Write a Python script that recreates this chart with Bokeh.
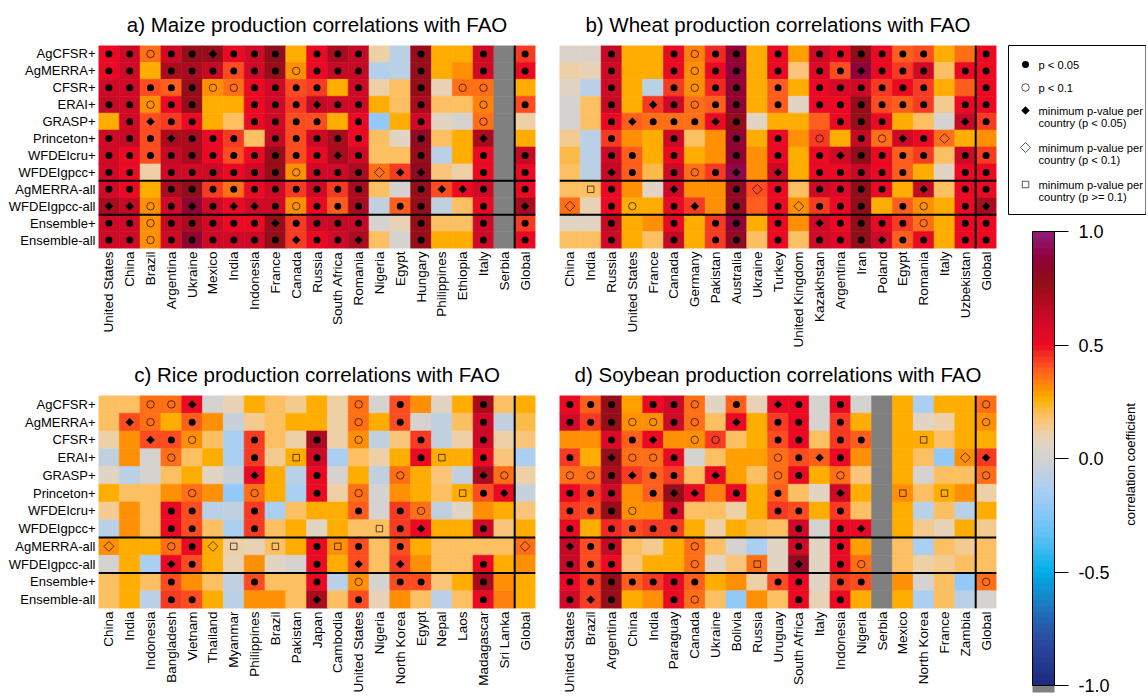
import numpy as np
from bokeh.plotting import figure
from bokeh.models import (ColumnDataSource, FactorRange, Range1d, Span, Label,
                          FixedTicker, PrintfTickFormatter, LinearColorMapper, ColorBar)
from bokeh.transform import linear_cmap
from bokeh.layouts import row, column
from bokeh.embed import file_html
from bokeh.resources import INLINE

NA = float("nan")
FONT = "Liberation Sans"

models = ["AgCFSR+", "AgMERRA+", "CFSR+", "ERAI+", "GRASP+", "Princeton+",
          "WFDEIcru+", "WFDEIgpcc+", "AgMERRA-all", "WFDEIgpcc-all",
          "Ensemble+", "Ensemble-all"]

# marker codes: o = p<0.05, c = p<0.1, D = min p-value per country (p<0.05),
# d = min p-value per country (p<0.1), s = min p-value per country (p>=0.1), - = none

maize_countries = ["United States", "China", "Brazil", "Argentina", "Ukraine", "Mexico",
                   "India", "Indonesia", "France", "Canada", "Russia", "South Africa",
                   "Romania", "Nigeria", "Egypt", "Hungary", "Philippines", "Ethiopia",
                   "Italy", "Serbia", "Global"]
maize_r = [
    [0.50, 0.60, 0.35, 0.60, 0.75, 0.75, 0.50, 0.60, 0.78, 0.25, 0.50, 0.70, 0.65, 0.12, -0.08, 0.75, 0.25, 0.25, 0.60, NA, 0.45],
    [0.50, 0.60, 0.25, 0.72, 0.72, 0.65, 0.42, 0.62, 0.75, 0.30, 0.50, 0.65, 0.65, -0.12, -0.08, 0.75, 0.25, 0.30, 0.60, NA, 0.50],
    [0.60, 0.60, 0.42, 0.40, 0.75, 0.30, 0.35, 0.50, 0.62, 0.42, 0.45, 0.25, 0.60, 0.12, 0.18, 0.75, 0.08, 0.35, 0.35, NA, 0.25],
    [0.65, 0.60, 0.30, 0.50, 0.75, 0.27, 0.27, 0.50, 0.62, 0.45, 0.65, 0.62, 0.62, 0.25, 0.20, 0.72, 0.18, 0.18, 0.33, NA, 0.42],
    [0.25, 0.60, 0.42, 0.45, 0.50, 0.25, 0.20, 0.50, 0.62, 0.42, 0.42, 0.25, 0.50, -0.22, 0.25, 0.62, 0.05, 0.00, 0.35, NA, 0.12],
    [0.62, 0.65, 0.42, 0.72, 0.72, 0.50, 0.45, 0.18, 0.65, 0.42, 0.60, 0.72, 0.50, 0.20, 0.05, 0.82, 0.20, 0.25, 0.72, NA, 0.25],
    [0.62, 0.50, 0.42, 0.65, 0.70, 0.50, 0.42, 0.50, 0.75, 0.42, 0.50, 0.72, 0.62, 0.20, 0.20, 0.75, -0.08, 0.25, 0.50, NA, 0.65],
    [0.62, 0.50, 0.10, 0.62, 0.60, 0.60, 0.50, 0.60, 0.75, 0.30, 0.62, 0.62, 0.70, 0.35, 0.45, 0.82, 0.16, 0.10, 0.50, NA, 0.50],
    [0.60, 0.50, 0.25, 0.70, 0.78, 0.45, 0.35, 0.50, 0.62, 0.45, 0.60, 0.45, 0.72, 0.18, 0.00, 0.75, 0.42, 0.50, 0.62, NA, 0.50],
    [0.72, 0.65, 0.30, 0.62, 0.85, 0.60, 0.50, 0.62, 0.62, 0.30, 0.50, 0.40, 0.72, -0.05, 0.40, 0.75, -0.05, 0.18, 0.50, NA, 0.70],
    [0.62, 0.62, 0.30, 0.65, 0.72, 0.60, 0.50, 0.50, 0.75, 0.45, 0.60, 0.65, 0.65, 0.00, 0.08, 0.75, 0.20, 0.18, 0.62, NA, 0.45],
    [0.62, 0.62, 0.30, 0.62, 0.85, 0.60, 0.60, 0.60, 0.75, 0.45, 0.50, 0.62, 0.72, 0.18, 0.02, 0.75, 0.25, 0.25, 0.62, NA, 0.50],
]
maize_sig = [
    "oocooDooo-ooo--o--o-o",
    "oo-oooooocooo--o--o-o",
    "oooooccoooo-o--o-cc--",
    "oocoo--oooDoo--o--c-o",
    "-oDoo--oooo-o--o--c--",
    "oooDooo-ooooo--o--D--",
    "oooooooooooDo--o--o-o",
    "oo-oooooocooodDD--o-o",
    "oo-oooooooooo--oDDo-o",
    "DDcoDoDDocooo-oo--o-D",
    "oocoooooDoooo--o--o-o",
    "oocooooooDooD--o--o-o",
]

wheat_countries = ["China", "India", "Russia", "United States", "France", "Canada",
                   "Germany", "Pakistan", "Australia", "Ukraine", "Turkey",
                   "United Kingdom", "Kazakhstan", "Argentina", "Iran", "Poland",
                   "Egypt", "Romania", "Italy", "Uzbekistan", "Global"]
wheat_r = [
    [0.03, 0.03, 0.65, 0.25, 0.27, 0.50, 0.33, 0.47, 0.85, 0.25, 0.50, 0.28, 0.60, 0.50, 0.78, 0.50, 0.40, 0.42, 0.25, 0.35, 0.50],
    [0.10, 0.08, 0.62, 0.25, 0.25, 0.50, 0.30, 0.50, 0.88, 0.25, 0.50, 0.16, 0.55, 0.42, 0.88, 0.50, 0.45, 0.62, 0.18, 0.50, 0.50],
    [0.06, -0.08, 0.60, 0.25, -0.10, 0.45, 0.30, 0.47, 0.85, 0.25, 0.40, 0.25, 0.50, 0.58, 0.60, 0.45, 0.50, 0.45, 0.25, 0.40, 0.50],
    [0.00, 0.18, 0.65, 0.25, 0.45, 0.60, 0.35, 0.40, 0.85, 0.25, 0.40, 0.07, 0.50, 0.50, 0.75, 0.42, 0.40, 0.45, 0.13, 0.50, 0.50],
    [0.00, 0.18, 0.50, 0.40, 0.37, 0.37, 0.37, 0.50, 0.78, 0.06, 0.25, 0.25, 0.40, 0.50, 0.75, 0.50, 0.25, 0.18, 0.00, 0.65, 0.45],
    [0.13, -0.10, 0.45, 0.30, 0.25, 0.60, 0.18, 0.30, 0.85, 0.25, 0.50, 0.30, 0.45, 0.25, 0.65, 0.37, 0.62, 0.50, 0.35, 0.25, 0.30],
    [0.22, -0.10, 0.60, 0.38, 0.25, 0.50, 0.25, 0.30, 0.85, 0.30, 0.50, 0.25, 0.50, 0.62, 0.78, 0.50, 0.40, 0.45, 0.18, 0.60, 0.45],
    [0.18, -0.10, 0.65, 0.40, 0.22, 0.60, 0.37, 0.45, 0.92, 0.30, 0.62, 0.25, 0.50, 0.50, 0.65, 0.50, 0.40, 0.25, 0.07, 0.50, 0.50],
    [0.18, 0.20, 0.50, 0.30, 0.05, 0.62, 0.30, 0.30, 0.80, 0.42, 0.50, 0.18, 0.62, 0.55, 0.78, 0.50, 0.27, 0.65, 0.18, 0.50, 0.50],
    [0.35, 0.08, 0.50, 0.25, 0.25, 0.50, 0.45, 0.30, 0.80, 0.40, 0.50, 0.30, 0.45, 0.50, 0.78, 0.27, 0.40, 0.30, 0.25, 0.50, 0.72],
    [0.05, 0.05, 0.65, 0.25, 0.30, 0.50, 0.25, 0.45, 0.88, 0.25, 0.50, 0.30, 0.62, 0.50, 0.78, 0.50, 0.45, 0.37, 0.25, 0.50, 0.50],
    [0.18, 0.18, 0.60, 0.25, 0.20, 0.65, 0.25, 0.45, 0.80, 0.18, 0.50, 0.18, 0.60, 0.55, 0.78, 0.62, 0.40, 0.50, 0.25, 0.50, 0.50],
]
wheat_sig = [
    "--o--ocoo-o-oooooo--o",
    "--o--ocoo-o-ooDooo-oo",
    "--o--ocoo-o-oooooo--o",
    "--o-Docoo-o-oooooo-oo",
    "--oDoooDo----ooo---Do",
    "--o--o--o-o-c-ocDod--",
    "--oo-o--o-o-oDoooo-oo",
    "--Do-ocoD-D-ooooo--oo",
    "-so--D--odo-oooo-D-oo",
    "d-oc-oD-o-odooo-oc-oD",
    "--o--o-oo-o-Dooooc-oo",
    "--o--o-oo-o-oooDoo-oo",
]

rice_countries = ["China", "India", "Indonesia", "Bangladesh", "Vietnam", "Thailand",
                  "Myanmar", "Philippines", "Brazil", "Pakistan", "Japan", "Cambodia",
                  "United States", "Nigeria", "North Korea", "Egypt", "Nepal", "Laos",
                  "Madagascar", "Sri Lanka", "Global"]
rice_r = [
    [0.18, 0.18, 0.35, 0.35, 0.52, 0.02, 0.08, 0.25, 0.20, 0.14, 0.25, 0.10, 0.35, 0.02, 0.42, 0.30, 0.05, 0.25, 0.72, 0.20, 0.25],
    [0.20, 0.42, 0.35, 0.25, 0.40, 0.30, -0.03, 0.14, 0.18, 0.25, 0.25, 0.10, 0.35, 0.25, 0.42, 0.00, -0.06, 0.20, 0.62, -0.06, 0.22],
    [0.10, 0.30, 0.42, 0.42, 0.30, 0.18, -0.15, 0.43, 0.20, 0.10, 0.72, 0.10, 0.30, -0.06, 0.16, 0.45, -0.06, 0.12, 0.62, 0.12, 0.17],
    [-0.07, 0.30, 0.01, 0.35, 0.18, 0.25, -0.15, 0.45, 0.14, 0.25, 0.62, -0.13, 0.18, 0.10, 0.25, 0.50, 0.25, 0.25, 0.50, 0.16, -0.13],
    [0.06, -0.10, 0.02, 0.20, 0.25, 0.05, -0.03, 0.50, 0.25, -0.10, 0.50, 0.02, 0.25, -0.06, 0.35, 0.25, 0.17, -0.05, 0.72, 0.35, 0.10],
    [0.25, 0.18, 0.18, 0.30, 0.37, 0.32, -0.22, 0.37, 0.25, -0.13, 0.50, 0.10, 0.37, 0.00, 0.30, 0.25, 0.20, 0.25, 0.42, 0.50, -0.04],
    [0.13, 0.30, 0.18, 0.50, 0.42, -0.10, -0.07, 0.45, -0.13, 0.20, 0.25, 0.25, 0.40, 0.00, 0.45, 0.35, -0.06, 0.07, 0.30, 0.25, 0.17],
    [-0.10, 0.30, 0.20, 0.50, 0.42, 0.18, -0.13, 0.43, 0.20, 0.25, 0.05, 0.25, 0.20, 0.20, 0.45, 0.50, 0.25, 0.25, 0.62, 0.17, 0.25],
    [0.32, 0.25, 0.25, 0.37, 0.50, 0.25, 0.10, 0.08, 0.20, 0.25, 0.50, 0.30, 0.42, 0.18, 0.42, 0.25, 0.18, 0.18, 0.18, 0.18, 0.37],
    [0.00, 0.25, -0.13, 0.50, 0.42, 0.25, 0.08, 0.30, 0.06, 0.02, 0.50, 0.25, 0.42, 0.18, 0.45, 0.30, 0.18, 0.18, 0.50, 0.25, 0.30],
    [0.18, 0.25, 0.18, 0.42, 0.30, 0.18, -0.06, 0.42, 0.18, 0.18, 0.50, -0.10, 0.30, 0.00, 0.42, 0.42, 0.17, 0.25, 0.70, 0.30, 0.25],
    [0.18, 0.25, -0.10, 0.45, 0.42, 0.25, -0.10, 0.30, 0.30, 0.18, 0.72, 0.20, 0.42, 0.08, 0.30, 0.20, -0.08, 0.20, 0.50, 0.33, 0.25],
]
rice_sig = [
    "--ccD-------c-o---o--",
    "-Dc-o-------c-o---o--",
    "--Doc--o--o-c--o--o--",
    "---c---o-so----os-o--",
    "-------D--o---c---Dc-",
    "----c--c--o-c----soD-",
    "---oo--o----o-oc-----",
    "---oo--o-----soD--o--",
    "d--cods-s-oso-o-----d",
    "---Do-----o-D-D---o--",
    "---o---o--o-c-oo--o--",
    "---oo-----D-o-----o--",
]

soy_countries = ["United States", "Brazil", "Argentina", "China", "India", "Paraguay",
                 "Canada", "Ukraine", "Bolivia", "Russia", "Uruguay", "South Africa",
                 "Italy", "Indonesia", "Nigeria", "Serbia", "Mexico", "North Korea",
                 "France", "Zambia", "Global"]
soy_r = [
    [0.50, 0.40, 0.75, 0.28, 0.50, 0.62, 0.35, 0.06, 0.40, 0.08, 0.50, 0.50, 0.02, 0.50, 0.00, NA, 0.25, -0.13, 0.25, 0.27, 0.35],
    [0.62, 0.45, 0.75, 0.30, 0.30, 0.62, 0.35, 0.18, 0.50, 0.25, 0.45, 0.50, 0.00, 0.45, 0.25, NA, 0.25, 0.07, 0.10, 0.25, 0.30],
    [0.30, 0.30, 0.55, 0.40, 0.50, 0.30, 0.30, 0.45, 0.18, 0.25, 0.42, 0.50, 0.18, 0.45, 0.40, NA, 0.25, 0.25, 0.20, 0.25, 0.25],
    [0.45, 0.27, 0.75, 0.35, 0.35, 0.50, 0.00, 0.18, 0.28, 0.28, 0.37, 0.42, 0.38, 0.50, 0.30, NA, 0.25, 0.20, -0.22, 0.30, 0.45],
    [0.37, 0.37, 0.72, 0.45, 0.40, 0.45, 0.18, 0.50, 0.28, 0.18, 0.37, 0.50, 0.25, 0.37, 0.16, NA, 0.25, 0.00, 0.20, 0.18, 0.37],
    [0.50, 0.45, 0.60, 0.30, 0.40, 0.75, 0.50, 0.34, 0.50, 0.25, 0.40, 0.20, 0.06, 0.60, 0.25, NA, 0.30, 0.20, 0.25, 0.30, 0.12],
    [0.45, 0.42, 0.75, 0.30, 0.30, 0.60, 0.18, 0.18, 0.12, 0.25, 0.45, 0.42, 0.25, 0.45, 0.20, NA, 0.25, -0.10, 0.20, -0.10, 0.25],
    [0.50, 0.25, 0.47, 0.42, 0.45, 0.45, 0.25, 0.10, 0.25, 0.22, 0.18, 0.62, 0.00, 0.50, 0.50, NA, 0.25, 0.13, 0.08, 0.25, 0.13],
    [0.65, 0.42, 0.65, 0.18, 0.13, 0.25, 0.35, 0.18, 0.00, -0.13, 0.07, 0.62, 0.05, 0.50, 0.28, NA, 0.18, -0.15, 0.18, 0.13, 0.18],
    [0.65, 0.42, 0.50, 0.16, 0.25, 0.25, 0.35, 0.06, 0.17, 0.35, 0.05, 0.80, 0.05, 0.50, 0.37, NA, 0.18, 0.10, 0.13, 0.20, 0.18],
    [0.50, 0.45, 0.75, 0.40, 0.45, 0.50, 0.40, 0.25, 0.30, 0.10, 0.42, 0.50, 0.05, 0.45, 0.42, NA, 0.30, 0.00, 0.20, -0.22, 0.35],
    [0.62, 0.45, 0.75, 0.25, 0.30, 0.50, 0.35, 0.18, -0.22, 0.30, 0.20, 0.50, 0.08, 0.50, 0.25, NA, 0.25, -0.15, 0.20, -0.08, 0.02],
]
soy_sig = [
    "ooo-ooc-o-Do-o------c",
    "oooccoc-D-oo-o------c",
    "--ooD-cc--oo-oo--s---",
    "o-Dcco----coDo-----dD",
    "ccoDoo-D--co-c------c",
    "ooo-oDD-o-o--D--s-s--",
    "oooc-o----oo-o-------",
    "o-oooo-----o-oD------",
    "Doo---c----o-o-------",
    "ooo---c--s-D-oc------",
    "ooooooo---oo-oo-----c",
    "oDo--oc----o-o-------",
]

legend_lines = [["p < 0.05"], ["p < 0.1"],
                ["minimum p-value per", "country (p < 0.05)"],
                ["minimum p-value per", "country (p < 0.1)"],
                ["minimum p-value per", "country (p >= 0.1)"]]
legend_codes = ["o", "c", "D", "d", "s"]
colorbar_ticks = [-1.0, -0.5, 0.0, 0.5, 1.0]

# ---------------- colour scale ----------------
anchor_v = [-1.00, -0.80, -0.65, -0.50, -0.35, -0.22, -0.12, -0.05, 0.00, 0.06, 0.11,
            0.17, 0.22, 0.25, 0.30, 0.35, 0.40, 0.45, 0.50, 0.60, 0.70, 0.78, 0.88, 1.00]
anchor_c = ["#1c2a7e", "#2a4aa0", "#1e78c0", "#00aee8", "#5cc0f5", "#90c8f8", "#b0d0ee",
            "#c4d0dc", "#d2d2d2", "#e0d4c4", "#ecd0a8", "#fcc474", "#fcb840", "#ffb400",
            "#ff9800", "#ff7812", "#ff5520", "#f33222", "#ee0a22", "#d20a28", "#b00a20",
            "#8f0f17", "#900038", "#8e1f7e"]
NA_COLOR = "#808080"


def _rgb(h):
    return [int(h[i:i + 2], 16) for i in (1, 3, 5)]


_ch = np.array([_rgb(c) for c in anchor_c], dtype=float)
NBIN = 80
palette = []
for i in range(NBIN):
    v = -1 + (i + 0.5) * 2.0 / NBIN
    r, g, b = [int(round(np.interp(v, anchor_v, _ch[:, k]))) for k in range(3)]
    palette.append("#%02x%02x%02x" % (r, g, b))

marker_styles = {
    "o": dict(marker="circle", size=7, fill_color="black", line_color=None),
    "c": dict(marker="circle", size=7.5, fill_color=None, line_color="black",
              line_alpha=0.65, line_width=1),
    "D": dict(marker="square", size=6, angle=np.pi / 4, fill_color="black", line_color=None),
    "d": dict(marker="square", size=7, angle=np.pi / 4, fill_color=None,
              line_color="black", line_alpha=0.65, line_width=1),
    "s": dict(marker="square", size=6.5, fill_color=None, line_color="black",
              line_alpha=0.65, line_width=1),
}


def panel(title, countries, r, sig, show_y, bl, br, bt, bb, w, h):
    xs, ys, vs, ks = [], [], [], []
    for i, m in enumerate(models):
        for j, c in enumerate(countries):
            xs.append(c)
            ys.append(m)
            vs.append(r[i][j])
            ks.append(sig[i][j])
    src = ColumnDataSource(dict(x=xs, y=ys, v=vs))
    p = figure(x_range=FactorRange(*countries), y_range=FactorRange(*models[::-1]),
               width=w, height=h, output_backend="svg", toolbar_location=None,
               min_border_left=bl, min_border_right=br, min_border_top=bt,
               min_border_bottom=bb, title=title)
    cmap = linear_cmap("v", palette, -1, 1, nan_color=NA_COLOR)
    p.rect("x", "y", 1, 1, source=src, fill_color=cmap, line_color=cmap, line_width=0.6)
    for code, kw in marker_styles.items():
        idx = [n for n, k in enumerate(ks) if k == code]
        if not idx:
            continue
        sub = ColumnDataSource(dict(x=[xs[n] for n in idx], y=[ys[n] for n in idx]))
        p.scatter("x", "y", source=sub, **kw)
    p.add_layout(Span(location=len(countries) - 1, dimension="height",
                      line_color="black", line_width=2))
    for loc in (2, 4):
        p.add_layout(Span(location=loc, dimension="width", line_color="black", line_width=2))
    p.grid.visible = False
    p.outline_line_color = None
    p.axis.axis_line_color = None
    p.axis.major_tick_line_color = None
    p.axis.major_tick_out = 0
    p.axis.major_tick_in = 0
    p.xaxis.major_label_orientation = np.pi / 2
    p.xaxis.major_label_text_font = FONT
    p.xaxis.major_label_text_font_size = "13.5px"
    p.xaxis.major_label_text_color = "black"
    p.xaxis.major_label_standoff = 3
    p.yaxis.major_label_text_font = FONT
    p.yaxis.major_label_text_font_size = "13px"
    p.yaxis.major_label_text_color = "black"
    p.yaxis.major_label_standoff = 3
    p.yaxis.visible = show_y
    p.title.align = "center"
    p.title.text_font = FONT
    p.title.text_font_size = "20.5px"
    p.title.text_font_style = "normal"
    p.title.text_color = "black"
    p.title.standoff = 20
    return p


FRAME_W = 437
FRAME_H = 216
pa = panel("a) Maize production correlations with FAO", maize_countries, maize_r, maize_sig,
           True, 98, 12, 45, 89, 98 + FRAME_W + 12, 45 + FRAME_H + 89)
pb = panel("b) Wheat production correlations with FAO", wheat_countries, wheat_r, wheat_sig,
           False, 12, 4, 45, 89, 12 + FRAME_W + 4, 45 + FRAME_H + 89)
pc = panel("c) Rice production correlations with FAO", rice_countries, rice_r, rice_sig,
           True, 98, 12, 45, 84, 98 + FRAME_W + 12, 45 + FRAME_H + 84)
pd_ = panel("d) Soybean production correlations with FAO", soy_countries, soy_r, soy_sig,
            False, 12, 4, 45, 84, 12 + FRAME_W + 4, 45 + FRAME_H + 84)

# ---------------- right side: legend box + colour bar ----------------
SIDE_W, SIDE_H = 146, 695
side = figure(width=SIDE_W, height=SIDE_H, x_range=Range1d(0, SIDE_W),
              y_range=Range1d(SIDE_H, 0), output_backend="svg", toolbar_location=None,
              min_border_left=0, min_border_right=0, min_border_top=0, min_border_bottom=0)
side.axis.visible = False
side.grid.visible = False
side.outline_line_color = None

side.quad(left=[8], right=[145.5], top=[45], bottom=[214], fill_color=None,
          line_color="black", line_width=1)
mark_y = [64, 87, 110, 147, 184]
for code, my, lines in zip(legend_codes, mark_y, legend_lines):
    side.scatter([25], [my], **marker_styles[code])
    side.text([38] * len(lines), [my + 12.5 * k for k in range(len(lines))],
              text=lines, text_font={"value": FONT}, text_font_size="11.2px",
              text_baseline="middle", text_align="left", text_color="black")

mapper = LinearColorMapper(palette=palette, low=-1, high=1, nan_color=NA_COLOR)
cbar = ColorBar(color_mapper=mapper, location=(32, 10), orientation="vertical",
                width=22, height=454, padding=0, margin=0,
                ticker=FixedTicker(ticks=colorbar_ticks),
                formatter=PrintfTickFormatter(format="%.1f"),
                major_tick_in=0, major_tick_out=14, major_tick_line_color="black",
                minor_tick_line_color=None, bar_line_color="black", bar_line_width=1,
                border_line_color=None, background_fill_color=None,
                major_label_text_font=FONT, major_label_text_font_size="18px",
                major_label_text_color="black", label_standoff=10)
side.add_layout(cbar)
side.quad(left=[32], right=[54], top=[685], bottom=[692], fill_color=NA_COLOR,
          line_color=None)
side.add_layout(Label(x=130, y=464, text="correlation coefficient", angle=np.pi / 2,
                      text_align="center", text_baseline="middle", text_font=FONT,
                      text_font_size="13px", text_color="black"))

layout = row(column(row(pa, pb), row(pc, pd_)), side)

open("out.html", "w").write(file_html(layout, INLINE))
